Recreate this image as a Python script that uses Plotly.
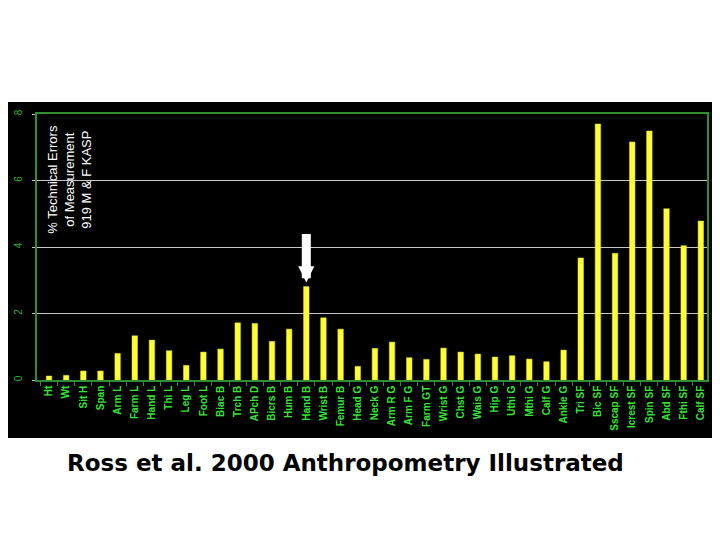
import plotly.graph_objects as go

categories = ["Ht", "Wt", "Sit H", "Span", "Arm L", "Farm L", "Hand L", "Thi L", "Leg L",
              "Foot L", "Biac B", "Trch B", "APch D", "Bicrs B", "Hum B", "Hand B", "Wrist B",
              "Femur B", "Head G", "Neck G", "Arm R G", "Arm F G", "Farm GT", "Wrist G",
              "Chst G", "Wais G", "Hip G", "Uthi G", "Mthi G", "Calf G", "Ankle G", "Tri SF",
              "Bic SF", "Sscap SF", "Icrest SF", "Spin SF", "Abd SF", "Fthi SF", "Calf SF"]
tem_pct = [0.12, 0.14, 0.27, 0.27, 0.80, 1.33, 1.20, 0.88, 0.44,
           0.84, 0.93, 1.72, 1.70, 1.16, 1.53, 2.81, 1.87,
           1.53, 0.41, 0.95, 1.14, 0.67, 0.62, 0.96,
           0.84, 0.78, 0.69, 0.73, 0.63, 0.55, 0.90, 3.67,
           7.70, 3.81, 7.16, 7.49, 5.15, 4.04, 4.78]
y_ticks = [0, 2, 4, 6, 8]
highlight = "Hand B"

fig = go.Figure()
fig.add_trace(go.Bar(
    x=categories, y=tem_pct, width=0.32,
    marker=dict(color="#ffff33", line=dict(color="#e6e61a", width=0.5)),
))

fig.add_shape(type="rect", xref="paper", yref="paper",
              x0=-0.0478, x1=1.0119, y0=-0.218, y1=1.045,
              fillcolor="black", line=dict(width=0), layer="below")

fig.add_annotation(
    x=highlight, y=tem_pct[categories.index(highlight)], xref="x", yref="y",
    text="", showarrow=True, ax=0, ay=-54, axref="pixel", ayref="pixel",
    arrowhead=2, arrowsize=0.36, arrowwidth=9, arrowcolor="white", standoff=4,
)

fig.add_annotation(
    xref="paper", yref="paper", x=0.049, y=0.756, xanchor="center", yanchor="middle",
    text="% Technical Errors<br>of Measurement<br>919 M &amp; F KASP",
    textangle=-90, showarrow=False, align="center",
    font=dict(family="Liberation Sans, Arial, sans-serif", size=13, color="white"),
)

fig.add_annotation(
    xref="paper", yref="paper", x=0.46, y=-0.312, xanchor="center", yanchor="middle",
    text="<b>Ross et al. 2000 Anthropometry Illustrated</b>", showarrow=False,
    font=dict(family="DejaVu Sans, Verdana, sans-serif", size=23, color="black"),
)

fig.update_layout(
    width=720, height=540,
    margin=dict(l=29, r=21, t=106, b=168),
    paper_bgcolor="white", plot_bgcolor="black",
    showlegend=False,
    bargap=0.6,
)
fig.update_xaxes(
    range=[-0.70, 38.36], tickangle=-90, tickson="boundaries", automargin=False,
    ticks="outside", ticklen=4, tickcolor="#2f8f2f",
    showline=True, linecolor="#2f8f2f", linewidth=1.5, mirror=True,
    showgrid=False,
    tickfont=dict(family="Liberation Sans, Arial, sans-serif", size=10, color="#33e833", weight="bold"),
)
fig.update_yaxes(
    range=[0, 8], tickvals=y_ticks, tickangle=-90, automargin=False,
    ticks="outside", ticklen=3, tickcolor="#c8c8c8",
    showline=True, linecolor="#2f8f2f", linewidth=1.5, mirror=True,
    showgrid=True, gridcolor="#c8c8c8", gridwidth=1, zeroline=False,
    ticklabelstandoff=6,
    tickfont=dict(family="Liberation Sans, Arial, sans-serif", size=10, color="#2db52d"),
)

fig.write_html("out.html")
